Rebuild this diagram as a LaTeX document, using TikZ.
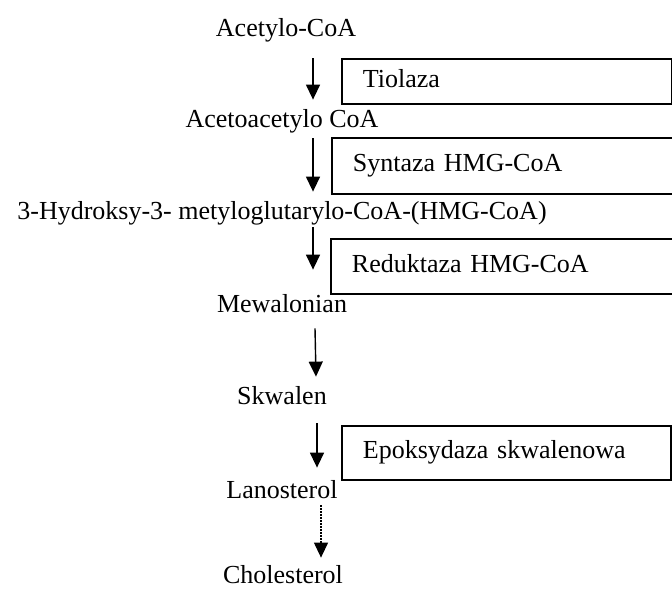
\documentclass[tikz,border=0pt]{standalone}
\usepackage{fontspec}
\setmainfont{Liberation Serif}
\usepackage{tikz}
\usetikzlibrary{arrows.meta, positioning, calc}
\tikzset{
  compound/.style={inner sep=0pt, text height=9pt, text depth=3pt,
    font=\fontsize{13}{15}\selectfont},
  enzyme/.style={rectangle, draw=black, line width=0.9pt,
    inner xsep=10.5pt, inner ysep=0pt, align=left, anchor=north west,
    text height=9pt, text depth=3pt, font=\fontsize{13}{15}\selectfont},
  arrow/.style={-{Triangle[width=7pt,length=7.5pt]}, line width=0.7pt, color=black},
  dotarrow/.style={-{Triangle[width=7pt,length=7.5pt]}, line width=0.6pt,
    dash pattern=on 0.6pt off 0.9pt, color=black}
}

\begin{document}
\begin{tikzpicture}[x=0.5pt, y=-0.5pt]
  \useasboundingbox (0,0) rectangle (672,590);

  % Compounds
  \node[compound] (acetyl)      at (286,30)  {Acetylo-CoA};
  \node[compound] (acetoacetyl) at (282,121) {Acetoacetylo CoA};
  \node[compound] (hmg)         at (282,213) {3-Hydroksy-3- metyloglutarylo-CoA-(HMG-CoA)};
  \node[compound] (mewal)       at (282,306) {Mewalonian};
  \node[compound] (skwal)       at (282,398) {Skwalen};
  \node[compound] (lano)        at (282,492) {Lanosterol};
  \node[compound] (chol)        at (283,577) {Cholesterol};

  % Enzymes
  \node[enzyme, text width=144pt, minimum height=22.5pt]  (tiolaza)   at (341,58)  {Tiolaza};
  \node[enzyme, text width=149.5pt, minimum height=28pt]  (syntaza)   at (331,137) {Syntaza HMG-CoA};
  \node[enzyme, text width=150pt, minimum height=27.5pt]  (reduktaza) at (330,238) {Reduktaza HMG-CoA};
  \node[enzyme, text width=143.5pt, minimum height=27pt]  (epoks)     at (341,425) {Epoksydaza skwalenowa};

  % Steps
  \draw[arrow] ($(acetyl.south)+(27,16)$)     -- ($(acetoacetyl.north)+(31,-9)$);
  \draw[arrow] ($(acetoacetyl.south)+(31,5)$) -- ($(hmg.north)+(31,-9)$);
  \draw[arrow] ($(hmg.south)+(31,2)$)         -- ($(mewal.north)+(31,-24)$);
  \draw[arrow] ($(mewal.south)+(33,10)$)      -- ($(skwal.north)+(34,-9)$);
  \draw[arrow] ($(skwal.south)+(35,13)$)      -- ($(lano.north)+(35,-12)$);
  \draw[dotarrow] ($(lano.south)+(39,1)$)     -- ($(chol.north)+(38,-7)$);
\end{tikzpicture}
\end{document}
